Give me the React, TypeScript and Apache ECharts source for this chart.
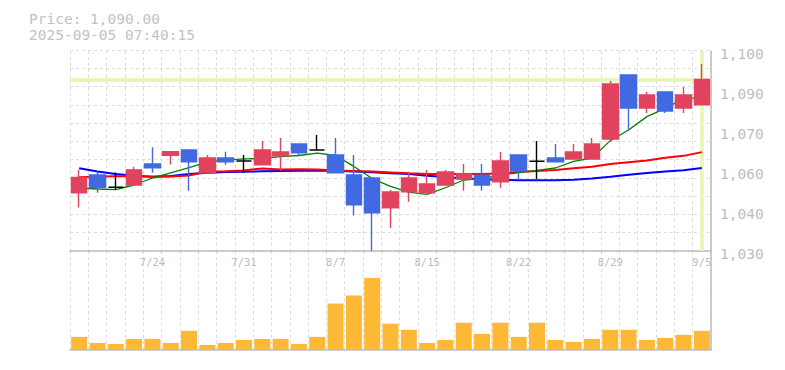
import React, { useEffect, useRef } from 'react';
import * as echarts from 'echarts';

const dates = [
  '7/17', '7/18', '7/22', '7/23', '7/24', '7/25', '7/28', '7/29', '7/30', '7/31',
  '8/1', '8/4', '8/5', '8/6', '8/7', '8/8', '8/12', '8/13', '8/14', '8/15',
  '8/18', '8/19', '8/20', '8/21', '8/22', '8/25', '8/26', '8/27', '8/28', '8/29',
  '9/1', '9/2', '9/3', '9/4', '9/5',
];

const opens = [
  1050.4, 1056.6, 1052.3, 1053.1, 1060.45, 1063.5, 1065.35, 1057.4, 1062.55, 1061.5,
  1060.2, 1063.35, 1067.45, 1065.35, 1063.6, 1056.6, 1055.55, 1045.15, 1050.75, 1050.4,
  1053.1, 1055.2, 1056.5, 1054.25, 1063.6, 1061.4, 1062.55, 1062.2, 1062.2, 1069.2,
  1091.6, 1080.05, 1085.65, 1080.05, 1081.2,
];
const closes = [
  1055.7, 1052.2, 1052.3, 1058.4, 1059.15, 1064.75, 1061.25, 1062.55, 1061.25, 1061.5,
  1065.35, 1064.65, 1064.4, 1065.35, 1057.4, 1046.2, 1043.4, 1050.65, 1055.55, 1053.45,
  1057.65, 1056.95, 1053.1, 1061.5, 1058.0, 1061.4, 1061.25, 1064.65, 1067.45, 1088.45,
  1080.05, 1084.6, 1079.0, 1084.6, 1090.0,
];
const lows = [
  1045.2, 1050.4, 1051.4, 1053.1, 1057.4, 1060.3, 1051.1, 1057.4, 1060.2, 1057.5,
  1060.2, 1058.1, 1063.6, 1065.35, 1057.4, 1042.4, 1030.1, 1038.15, 1047.25, 1050.4,
  1053.1, 1051.1, 1051.1, 1052.15, 1055.2, 1055.2, 1061.25, 1062.2, 1062.2, 1068.25,
  1072.1, 1078.3, 1078.3, 1078.3, 1081.2,
];
const highs = [
  1058.4, 1057.8, 1057.5, 1059.5, 1066.3, 1064.75, 1065.35, 1063.6, 1064.75, 1063.6,
  1068.5, 1069.55, 1067.45, 1070.6, 1069.55, 1063.6, 1055.55, 1051.35, 1057.75, 1058.35,
  1058.35, 1060.45, 1060.45, 1064.65, 1063.6, 1068.5, 1067.45, 1067.45, 1069.55, 1089.5,
  1091.6, 1085.65, 1085.65, 1087.4, 1095.45,
];

const maShort = [
  1052.05, 1051.7, 1051.5, 1053.1, 1055.55, 1057.36, 1059.17, 1061.22, 1061.79, 1062.26,
  1062.38, 1063.06, 1063.43, 1064.25, 1063.43, 1059.6, 1055.35, 1052.6, 1050.64, 1049.85,
  1052.14, 1054.85, 1055.34, 1056.53, 1057.44, 1058.19, 1059.05, 1061.36, 1062.55, 1068.64,
  1072.37, 1077.04, 1079.91, 1083.34, 1083.65,
];
const maMid = [
  1055.8, 1056.1, 1056.15, 1056.15, 1056.0, 1056.1, 1056.4, 1057.8, 1057.9, 1058.2,
  1058.9, 1058.5, 1058.6, 1058.5, 1058.2, 1058.0, 1057.8, 1057.5, 1057.2, 1056.95,
  1056.95, 1056.95, 1056.95, 1057.1, 1057.65, 1058.0, 1058.35, 1058.95, 1059.5, 1060.45,
  1061.05, 1061.65, 1062.6, 1063.3, 1064.6,
];
const maLong = [
  1058.95, 1057.8, 1056.95, 1056.3, 1056.0, 1056.25, 1056.95, 1057.4, 1057.65, 1057.7,
  1057.9, 1058.0, 1058.1, 1058.15, 1058.1, 1057.8, 1057.6, 1057.2, 1056.95, 1056.3,
  1055.9, 1055.4, 1055.1, 1054.9, 1054.75, 1054.75, 1054.75, 1054.9, 1055.4, 1056.0,
  1056.7, 1057.3, 1057.85, 1058.25, 1059.05,
];

const volumes = [
  39, 21, 18, 33, 33, 21, 57, 15, 21, 30,
  33, 33, 18, 39, 138, 162, 214, 78, 60, 21,
  30, 81, 48, 81, 39, 81, 30, 24, 33, 60,
  60, 30, 36, 45, 57,
];

const priceTickLabels = ['1,030', '1,040', '1,060', '1,070', '1,090', '1,100'];
const dateTickLabels = ['7/24', '7/31', '8/7', '8/15', '8/22', '8/29', '9/5'];
const cursorPrice = 1090;
const cursorDate = '9/5';
const headerPrice = 'Price: 1,090.00';
const headerTime = '2025-09-05 07:40:15';

export default function App() {
  const ref = useRef<HTMLDivElement>(null);

  useEffect(() => {
    if (!ref.current) return;
    const chart = echarts.init(ref.current, null, { renderer: 'svg' });
    const font = "'DejaVu Sans Mono', monospace";
    const dash = { color: '#dcdcdc', type: [3, 3] as any, width: 1 };
    const axisGray = { color: '#bdbdbd', width: 1.5 };
    const candleData = dates.map((_, i) => [opens[i], closes[i], lows[i], highs[i]]);
    const L = 70;
    const R = 74;

    chart.setOption({
      animation: false,
      backgroundColor: '#ffffff',
      grid: [
        { left: L, right: R, top: 51, height: 200 },
        { left: L, right: R, top: 251, height: 99 },
        { left: L, right: R, top: 50, height: 201 },
        { left: L, right: R, top: 53.5, height: 200 },
      ],
      graphic: [
        {
          type: 'text', left: 29, top: 11,
          style: { text: headerPrice, font: `14.5px ${font}`, fill: '#c2c2c2' },
        },
        {
          type: 'text', left: 29, top: 27.5,
          style: { text: headerTime, font: `14.5px ${font}`, fill: '#c2c2c2' },
        },
      ],
      xAxis: [
        {
          type: 'category', gridIndex: 0, data: dates, boundaryGap: true,
          axisLine: { show: true, lineStyle: axisGray },
          axisTick: { show: false },
          axisLabel: {
            interval: (_i: number, v: string) => dateTickLabels.includes(v),
            color: '#bdbdbd', fontFamily: font, fontSize: 10.5, margin: 5,
            showMaxLabel: true,
          },
          splitLine: { show: true, interval: 0, lineStyle: dash },
        },
        {
          type: 'category', gridIndex: 1, data: dates, boundaryGap: true,
          axisLine: { show: true, lineStyle: axisGray },
          axisTick: { show: false },
          axisLabel: { show: false },
          splitLine: { show: true, interval: 0, lineStyle: dash },
        },
        { type: 'category', gridIndex: 2, data: dates, show: false },
        { type: 'category', gridIndex: 3, data: dates, show: false },
      ],
      yAxis: [
        {
          type: 'value', gridIndex: 0, min: 1030, max: 1100, position: 'right',
          axisLine: { show: true, lineStyle: axisGray },
          axisTick: { show: false }, axisLabel: { show: false }, splitLine: { show: false },
        },
        {
          type: 'value', gridIndex: 3, min: 0, max: 5, interval: 1, position: 'right',
          axisLine: { show: false },
          axisTick: { show: false },
          axisLabel: {
            formatter: (v: number) => priceTickLabels[Math.round(v)] ?? '',
            color: '#bdbdbd', fontFamily: font, fontSize: 14.5, margin: 9,
          },
          splitLine: { show: false },
        },
        {
          type: 'value', gridIndex: 1, min: 0, max: 294, position: 'right',
          axisLine: { show: true, lineStyle: axisGray },
          axisTick: { show: false }, axisLabel: { show: false }, splitLine: { show: false },
        },
        {
          type: 'value', gridIndex: 2, min: 0, max: 11, interval: 1,
          axisLine: { show: false }, axisTick: { show: false }, axisLabel: { show: false },
          splitLine: { show: true, lineStyle: dash },
        },
      ],
      series: [
        {
          type: 'line', name: 'cursor', xAxisIndex: 0, yAxisIndex: 0, data: [], z: 1,
          markLine: {
            z: 1, silent: true, symbol: ['none', 'none'], label: { show: false },
            lineStyle: { color: '#e6f5b0', width: 3.5, type: 'solid' },
            data: [{ yAxis: cursorPrice }, { xAxis: cursorDate }],
          },
        },
        {
          type: 'line', name: 'MA75', xAxisIndex: 0, yAxisIndex: 0, data: maLong, z: 2,
          symbol: 'none', lineStyle: { color: '#0000ff', width: 2 },
        },
        {
          type: 'line', name: 'MA25', xAxisIndex: 0, yAxisIndex: 0, data: maMid, z: 2,
          symbol: 'none', lineStyle: { color: '#ff0000', width: 2 },
        },
        {
          type: 'line', name: 'MA5', xAxisIndex: 0, yAxisIndex: 0, data: maShort, z: 2,
          symbol: 'none', lineStyle: { color: '#008000', width: 1.3 },
        },
        {
          type: 'candlestick', xAxisIndex: 0, yAxisIndex: 0, data: candleData, z: 3,
          barWidth: 16,
          itemStyle: {
            color: '#e1435f', color0: '#4169e1',
            borderColor: '#e1435f', borderColor0: '#4169e1', borderColorDoji: '#000000',
            borderWidth: 1.4,
          },
        },
        {
          type: 'bar', xAxisIndex: 1, yAxisIndex: 2, data: volumes, barWidth: 16,
          itemStyle: { color: '#fdb836' },
        },
      ],
    });

    return () => chart.dispose();
  }, []);

  return (
    <div
      ref={ref}
      style={{ position: 'fixed', left: 0, top: 0, width: 785, height: 370, background: '#fff' }}
    />
  );
}
